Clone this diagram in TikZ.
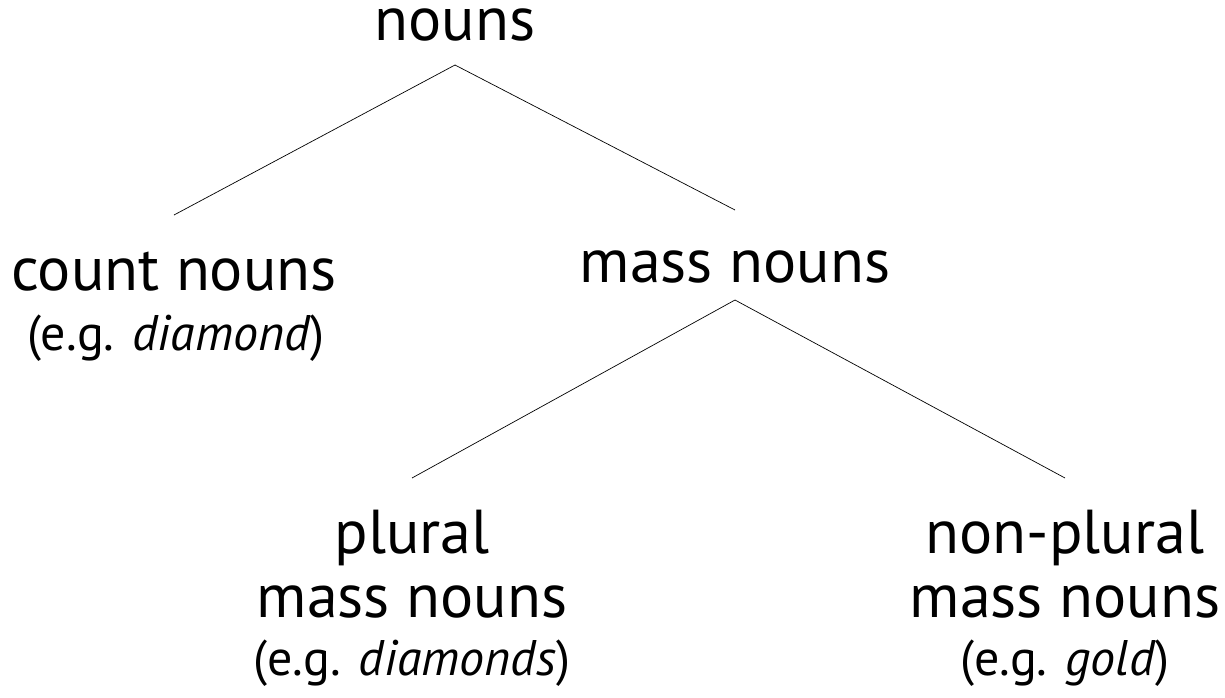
\documentclass[tikz,border=0pt]{standalone}
\usepackage{fontspec}
\setmainfont{PT Sans}
\begin{document}
\begin{tikzpicture}[x=1pt,y=-1pt,
  lbl/.style={inner sep=0pt,anchor=base,font=\fontsize{62}{70}\selectfont},
  ex/.style={inner sep=0pt,anchor=base,font=\fontsize{50}{58}\selectfont},
  edge/.style={draw=black,line width=0.7pt}]
\useasboundingbox (0,0) rectangle (1225,697);
\node[lbl] (nouns) at (455,40) {nouns};
\node[lbl] (count) at (174,290) {count nouns};
\node[ex] (countex) at (176,350) {(e.g. \textit{diamond})};
\node[lbl] (mass) at (735,282) {mass nouns};
\node[lbl] (plural) at (412,553) {plural};
\node[lbl] (pmass) at (412,617) {mass nouns};
\node[ex] (pex) at (412,675) {(e.g. \textit{diamonds})};
\node[lbl] (nonplural) at (1065,553) {non-plural};
\node[lbl] (nmass) at (1065,617) {mass nouns};
\node[ex] (nex) at (1065,675) {(e.g. \textit{gold})};
\draw[edge] ([yshift=-25pt]nouns.base) -- ([yshift=75pt]count.base);
\draw[edge] ([yshift=-25pt]nouns.base) -- ([yshift=72pt]mass.base);
\draw[edge] ([yshift=-18pt]mass.base) -- ([yshift=75pt]plural.base);
\draw[edge] ([yshift=-18pt]mass.base) -- ([yshift=75pt]nonplural.base);
\end{tikzpicture}
\end{document}
